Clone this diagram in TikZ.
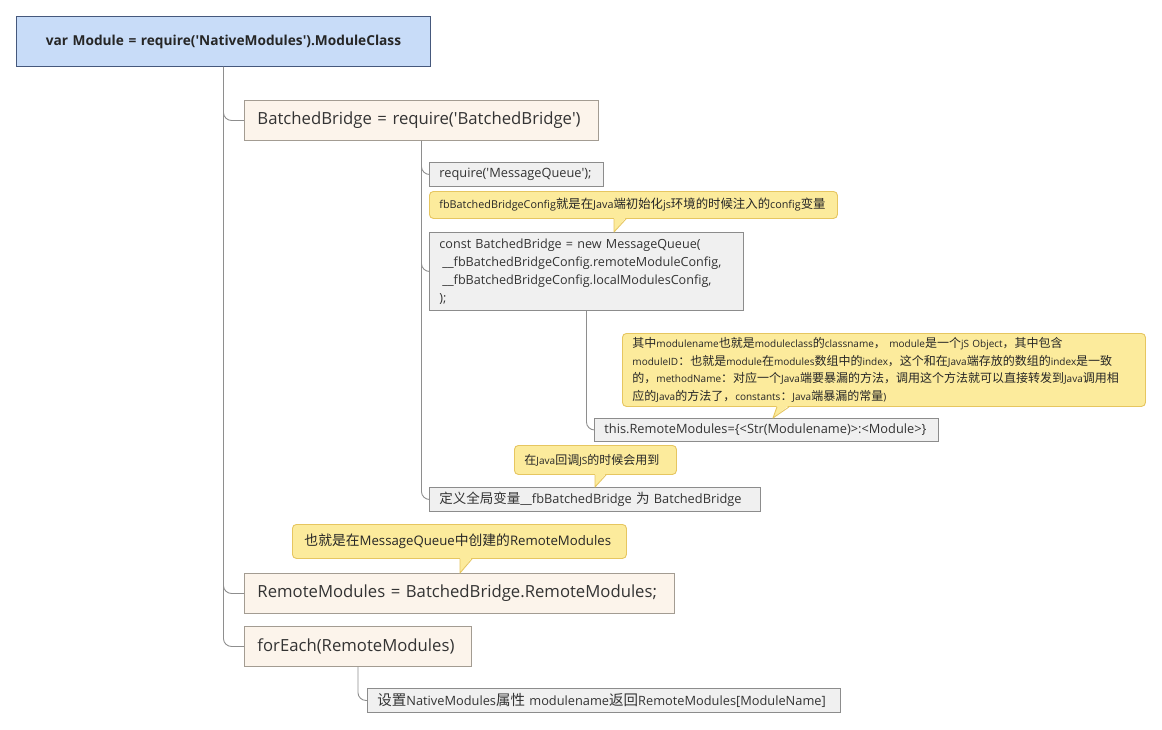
\documentclass[tikz,border=0pt]{standalone}
\usepackage{fontspec}
\setmainfont{Open Sans}
\newfontfamily\cjk{Noto Sans CJK SC}
\usetikzlibrary{calc}
\newcommand\zh[1]{{\cjk #1}}
\newcommand\zhs[2]{{\cjk\fontsize{#1}{17.5}\selectfont #2}}
\newcommand\sq{\textquotesingle}
\definecolor{rootfill}{HTML}{C8DCF8}
\definecolor{rootdraw}{HTML}{45587C}
\definecolor{begfill}{HTML}{FCF4EB}
\definecolor{begdraw}{HTML}{A39C92}
\definecolor{gryfill}{HTML}{F0F0F0}
\definecolor{grydraw}{HTML}{8C8C8C}
\definecolor{cfill}{HTML}{FCEB9C}
\definecolor{cdraw}{HTML}{E6C660}
\definecolor{txt}{HTML}{333333}
\definecolor{conn}{HTML}{8E8E8E}
\begin{document}
\begin{tikzpicture}[x=1pt,y=-1pt,
  base/.style={rectangle, anchor=north west, align=left, inner ysep=0pt, text=txt, line width=0.9pt},
  rootbox/.style={base, draw=rootdraw, fill=rootfill, align=center, inner xsep=8pt,
     font=\bfseries\fontsize{13.7}{16}\selectfont, text=black!85},
  bigbox/.style={base, draw=begdraw, fill=begfill, inner xsep=13pt, font=\fontsize{16.7}{20}\selectfont},
  smallbox/.style={base, draw=grydraw, fill=gryfill, inner xsep=10pt, font=\fontsize{12.8}{18}\selectfont},
  callout/.style={base, draw=cdraw, fill=cfill, rounded corners=4pt, inner xsep=10pt,
     font=\fontsize{10}{17.5}\selectfont, text=black!85},
  link/.style={draw=conn, line width=0.9pt, rounded corners=8pt},
  ptrfill/.style={fill=cfill},
  ptrdraw/.style={draw=cdraw, line width=0.9pt, line join=round}
]
\useasboundingbox[fill=white] (0,0) rectangle (1162,729);

% nodes
\node[rootbox, text width=398pt, minimum height=50pt] (root) at (16,16)
  {var Module = require(\sq NativeModules\sq).ModuleClass};
\node[bigbox, text width=328pt, minimum height=40pt] (bb) at (244,100)
  {BatchedBridge = require(\sq BatchedBridge\sq)};
\node[smallbox, text width=154pt, minimum height=24pt] (mq) at (429,162)
  {require(\sq MessageQueue\sq);};
\node[callout, text width=388pt, minimum height=27pt, font=\fontsize{10.8}{17.5}\selectfont] (cb1) at (429,191)
  {fbBatchedBridgeConfig\zhs{12.4}{就是在}Java\zhs{12.4}{端初始化}js\zhs{12.4}{环境的时候注入的}config\zhs{12.4}{变量}};
\node[smallbox, text width=294pt, minimum height=78pt, font=\fontsize{12.6}{18}\selectfont] (cq) at (429,232)
  {const BatchedBridge = new MessageQueue(\\
   \hspace*{3pt}\_\_fbBatchedBridgeConfig.remoteModuleConfig,\\
   \hspace*{3pt}\_\_fbBatchedBridgeConfig.localModulesConfig,\\
   );};
\node[callout, text width=503pt, minimum height=73pt] (cb2) at (622,333)
  {\zhs{12}{其中}modulename\zhs{12}{也就是}moduleclass\zhs{12}{的}classname\zhs{12}{，} module\zhs{12}{是一个}jS Object\zhs{12}{，其中包含}\\
   moduleID\zhs{12}{：也就是}module\zhs{12}{在}modules\zhs{12}{数组中的}index\zhs{12}{，这个和在}Java\zhs{12}{端存放的数组的}index\zhs{12}{是一致}\\
   \zhs{12}{的，}methodName\zhs{12}{：对应一个}Java\zhs{12}{端要暴漏的方法，调用这个方法就可以直接转发到}Java\zhs{12}{调用相}\\
   \zhs{12}{应的}Java\zhs{12}{的方法了，}constants\zhs{12}{：}Java\zhs{12}{端暴漏的常量})};
\node[smallbox, text width=324pt, minimum height=23pt] (rm) at (594,418)
  {this.RemoteModules=\{<Str(Modulename)>:<Module>\}};
\node[callout, text width=142pt, minimum height=29pt] (cb3) at (514,445)
  {\zhs{12}{在}Java\zhs{12}{回调}JS\zhs{12}{的时候会用到}};
\node[smallbox, text width=311pt, minimum height=24pt] (gb) at (429,487)
  {\zh{\fontsize{13.5}{18}\selectfont 定义全局变量}\_\_fbBatchedBridge \zh{\fontsize{13.5}{18}\selectfont 为} BatchedBridge};
\node[callout, text width=310pt, minimum height=34pt, inner xsep=12pt, font=\fontsize{13.2}{17.5}\selectfont] (cb4) at (292,524)
  {\zhs{13.8}{也就是在}MessageQueue\zhs{13.8}{中创建的}RemoteModules};
\node[bigbox, text width=404pt, minimum height=40pt] (rmb) at (244,573)
  {RemoteModules = BatchedBridge.RemoteModules;};
\node[bigbox, text width=201pt, minimum height=40pt] (fe) at (244,626)
  {forEach(RemoteModules)};
\node[smallbox, text width=453pt, minimum height=24pt] (sz) at (367,688)
  {\zh{\fontsize{14.5}{18}\selectfont 设置}NativeModules\zh{\fontsize{14.5}{18}\selectfont 属性} modulename\zh{\fontsize{14.5}{18}\selectfont 返回}RemoteModules[ModuleName]};

% connectors
\draw[link] (root.south) |- (bb.west);
\draw[link] (root.south) |- (rmb.west);
\draw[link] (root.south) |- (fe.west);
\draw[link] (bb.south) |- (mq.west);
\draw[link] (bb.south) |- (cq.west);
\draw[link] (bb.south) |- (gb.west);
\draw[link] (cq.south) |- (rm.west);
\draw[link] (fe.south) |- (sz.west);

% callout pointers
\coordinate (p1) at ($(cb1.south west)+(185,0)$);
\fill[ptrfill] ($(p1)+(0,-1.5)$) -- (p1 |- cq.north) -- ($(p1)+(12,-1.5)$) -- cycle;
\draw[ptrdraw] (p1) -- (p1 |- cq.north) -- ($(p1)+(12,0)$);

\coordinate (p2) at ($(cb2.south west)+(155,0)$);
\coordinate (q2) at ($(cb2.south west)+(151,0)$);
\fill[ptrfill] ($(p2)+(0,-1.5)$) -- (q2 |- rm.north) -- ($(p2)+(12,-1.5)$) -- cycle;
\draw[ptrdraw] (p2) -- (q2 |- rm.north) -- ($(p2)+(12,0)$);

\coordinate (p3) at ($(cb3.south west)+(81,0)$);
\fill[ptrfill] ($(p3)+(0,-1.5)$) -- (p3 |- gb.north) -- ($(p3)+(11,-1.5)$) -- cycle;
\draw[ptrdraw] (p3) -- (p3 |- gb.north) -- ($(p3)+(11,0)$);

\coordinate (p4) at ($(cb4.south west)+(168,0)$);
\fill[ptrfill] ($(p4)+(0,-1.5)$) -- (p4 |- rmb.north) -- ($(p4)+(12,-1.5)$) -- cycle;
\draw[ptrdraw] (p4) -- (p4 |- rmb.north) -- ($(p4)+(12,0)$);
\end{tikzpicture}
\end{document}
